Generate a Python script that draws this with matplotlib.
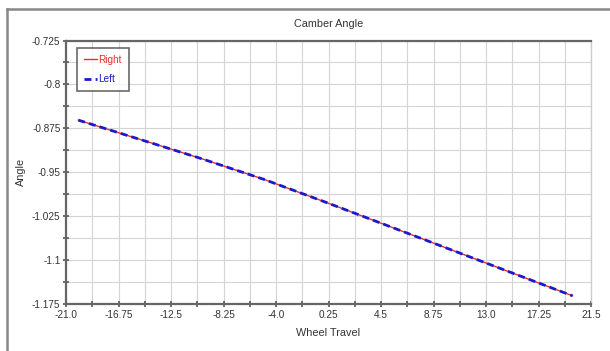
import matplotlib.pyplot as plt
from matplotlib.lines import Line2D

plt.rcParams['font.family'] = ['Liberation Sans Narrow', 'Liberation Sans', 'DejaVu Sans']
plt.rcParams['axes.unicode_minus'] = False

wheel_travel = [-20, -15, -10, -5, 0, 5, 10, 15, 20]
camber_right = [-0.861, -0.894, -0.927, -0.962, -1.001, -1.041, -1.081, -1.121, -1.161]
camber_left = [-0.861, -0.894, -0.927, -0.962, -1.001, -1.041, -1.081, -1.121, -1.161]

x_ticks = [-21.0, -16.75, -12.5, -8.25, -4.0, 0.25, 4.5, 8.75, 13.0, 17.25, 21.5]
x_labels = ["-21.0", "-16.75", "-12.5", "-8.25", "-4.0", "0.25", "4.5", "8.75", "13.0", "17.25", "21.5"]
y_ticks = [-0.725, -0.8, -0.875, -0.95, -1.025, -1.1, -1.175]
y_labels = ["-0.725", "-0.8", "-0.875", "-0.95", "-1.025", "-1.1", "-1.175"]

fig = plt.figure(figsize=(6.1, 3.51), dpi=100)
ax = fig.add_axes([0.1082, 0.1339, 0.8607, 0.7507])

ax.plot(wheel_travel, camber_right, color='#e03030', lw=1.0, label='Right')
ax.plot(wheel_travel, camber_left, color='#1a1acc', lw=2.0, ls=(0, (2.5, 1.5)), label='Left')

ax.set_xlim(-21.0, 21.5)
ax.set_ylim(-1.175, -0.725)
ax.set_xticks(x_ticks)
ax.set_xticklabels(x_labels)
ax.set_yticks(y_ticks)
ax.set_yticklabels(y_labels)
minor_x = [(a + b) / 2 for a, b in zip(x_ticks[:-1], x_ticks[1:])]
minor_y = [(a + b) / 2 for a, b in zip(y_ticks[:-1], y_ticks[1:])]
ax.set_xticks(minor_x, minor=True)
ax.set_yticks(minor_y, minor=True)
ax.grid(True, which='both', color='#d4d4d4', lw=0.8)
ax.set_axisbelow(True)
ax.tick_params(which='both', direction='inout', length=4, width=1.2, color='#555555',
               labelsize=7.2, labelcolor='#333333', pad=2)

for side in ['left', 'bottom', 'top']:
    ax.spines[side].set_color('#666666')
    ax.spines[side].set_linewidth(1.6)
ax.spines['right'].set_color('#cccccc')
ax.spines['right'].set_linewidth(1.0)

ax.set_title('Camber Angle', fontsize=7.8, color='#333333', pad=10)
ax.set_xlabel('Wheel Travel', fontsize=7.8, color='#333333', labelpad=6)
ax.set_ylabel('Angle', fontsize=7.8, color='#333333')
ax.yaxis.set_label_coords(-0.076, 0.5)

leg = ax.legend(loc='upper left', bbox_to_anchor=(0.021, 0.97), fontsize=7.2, frameon=True,
                fancybox=False, handlelength=1.3, handletextpad=0.2, borderpad=0.65,
                labelspacing=0.95, borderaxespad=0)
leg.get_frame().set_edgecolor('#444444')
leg.get_frame().set_linewidth(1.2)
leg.get_texts()[0].set_color('#e03030')
leg.get_texts()[1].set_color('#1a1acc')

# outer window border
fig.add_artist(Line2D([7 / 610, 1.0], [1 - 9 / 351, 1 - 9 / 351], color='#888888', lw=1.8))
fig.add_artist(Line2D([7 / 610, 7 / 610], [0, 1 - 9 / 351], color='#888888', lw=1.8))

fig.savefig('out.png', dpi=100)
